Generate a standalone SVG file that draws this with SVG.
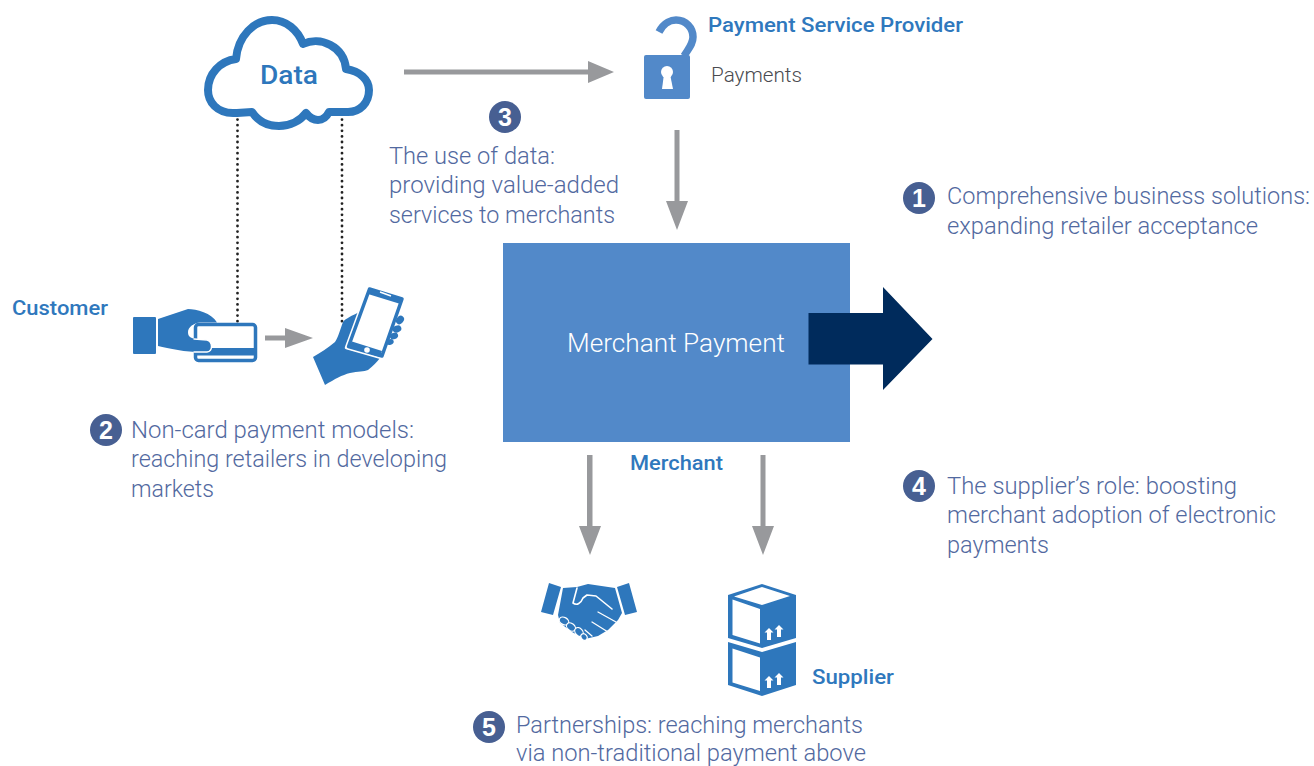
<svg xmlns="http://www.w3.org/2000/svg" width="1314" height="766" viewBox="0 0 1314 766">
<style>
.b{font-family:Roboto,"Liberation Sans",sans-serif;font-weight:300;font-size:23px;fill:#5269a0}
.h{font-family:Roboto,"Liberation Sans",sans-serif;font-weight:500;font-size:20px;fill:#2f78bd}
.n{font-family:"Liberation Sans",Arial,sans-serif;font-weight:700;font-size:25px;fill:#fff;text-anchor:middle}
.num{fill:#475f92}
.i{fill:#2e77bc}
.w{fill:#fff}
.gr{fill:#98999c}
.dot{fill:none;stroke:#222;stroke-width:2.800;stroke-linecap:round;stroke-dasharray:0 5.600}
.s{fill:none;stroke:#fff;stroke-linecap:round;stroke-linejoin:round}
.f{fill:#2e77bc;stroke:#fff;stroke-width:1.200}
</style>
<g id="connectors">
<line class="dot" x1="237.500" y1="114" x2="237.500" y2="323"/>
<line class="dot" x1="342" y1="114" x2="342" y2="323"/>
<path class="gr" d="M404 69.500H588V61L614 72L588 83V74.500H404Z"/>
<path class="gr" d="M674.500 130V201H666L677 230L688 201H679.500V130Z"/>
<path class="gr" d="M587 455V526H579L590 555L601 526H592.500V455Z"/>
<path class="gr" d="M760.500 455V526H752L763 555L774 526H765.500V455Z"/>
<path class="gr" d="M265 335.500H285V328L313 338L285 348V340.500H265Z"/>
</g>
<g id="merchant-payment">
<rect x="503" y="243" width="347" height="199" fill="#5289c9"/>
<text x="567" y="352" textLength="218" lengthAdjust="spacingAndGlyphs" style="font-family:Roboto,'Liberation Sans',sans-serif;font-weight:300;font-size:26px;fill:#fff">Merchant Payment</text>
<path d="M808.500 313H883V287L932.500 339L883 390V364.500H808.500Z" fill="#002b5c"/>
<text class="h" x="630" y="470" textLength="93" lengthAdjust="spacingAndGlyphs">Merchant</text>
</g>
<g id="data-cloud">
<path d="M237 113H233C217 113 208 102 208 90C208 74 220 61 236 59C238 36 254 20 272 20C286 20 298 30 303 44C320 36 344 46 346 69C360 71 369 80 369 90C369 103 360 112 348 112H329C326 118 322 120 318 120C313 120 309 117 306 113C300 121 290 126 279 126C268 126 258 121 252 112Z" fill="#fff" stroke="#2e77bc" stroke-width="8" stroke-linejoin="round"/>
<text x="260" y="84" textLength="58" lengthAdjust="spacingAndGlyphs" style="font-family:Roboto,'Liberation Sans',sans-serif;font-weight:500;font-size:25px;fill:#2e77bc">Data</text>
</g>
<g id="payment-service-provider">
<path d="M659 32C664 22 672 20 676 20C686 20 693 28 693 37C693 44 689 48 684 56" fill="none" stroke="#5289c9" stroke-width="7.500"/>
<rect x="644" y="55" width="46" height="44" rx="2" fill="#5289c9"/>
<circle class="w" cx="667" cy="72" r="6"/>
<path class="w" d="M664 74H670L673 89H662Z"/>
<text class="h" x="708" y="32" textLength="255" lengthAdjust="spacingAndGlyphs">Payment Service Provider</text>
<text x="711" y="82" textLength="91" lengthAdjust="spacingAndGlyphs" style="font-family:Roboto,'Liberation Sans',sans-serif;font-weight:300;font-size:20px;fill:#4a4b50">Payments</text>
</g>
<g id="customer-card">
<rect class="i" x="133" y="317" width="23" height="37" rx="1"/>
<rect x="195.500" y="324.500" width="60" height="36" rx="3" fill="#fff" stroke="#2e77bc" stroke-width="3.500"/>
<rect class="i" x="196" y="348" width="60" height="7.500"/>
<path class="i" d="M158 319L188 309C196 309 212 313 217 322.500H200C194 323 188 327 188 332C188 336 190 338 194 338.500L207 340C213 342 213 351 207 352C190 353 170 349 158 346Z"/>
<path class="s" d="M194 339L207 340C213 342 213 351 207 352L194 352" stroke-width="1.400"/>
<text class="h" x="12" y="315" textLength="96" lengthAdjust="spacingAndGlyphs">Customer</text>
</g>
<g id="phone-hand">
<path class="i" d="M359 312C352 316 346 318 343 322C340 330 338 338 335 342C328 348 320 353 313 357L325 385C335 379 342 375 350 373C358 371 364 372 368 370C373 366 377 362 380 358L347 349Z"/>
<path d="M368.500 287.500L403.500 298.500L383 358L346.500 347.500Z" fill="#fff" stroke="#fff" stroke-width="3.500" stroke-linejoin="round"/>
<path d="M369.500 289L402 299L382 356L348.500 346.500Z" fill="#fff" stroke="#2e77bc" stroke-width="3.500" stroke-linejoin="round"/>
<path class="i" d="M352 341.500L382 351L380 357L348 347ZM369.500 289L402 299L400.500 304L368 294Z"/>
<circle class="w" cx="367" cy="350" r="2.800"/>
<line x1="380" y1="292" x2="391" y2="296" stroke="#fff" stroke-width="1.500"/>
<ellipse class="i" cx="400" cy="320" rx="4.500" ry="3.600" transform="rotate(-50 400 320)"/>
<ellipse class="i" cx="397" cy="329" rx="4.500" ry="3.400" transform="rotate(-20 397 329)"/>
<ellipse class="i" cx="394" cy="336" rx="4.200" ry="3.200" transform="rotate(-20 394 336)"/>
<ellipse class="i" cx="390" cy="342" rx="3.800" ry="2.800" transform="rotate(-20 390 342)"/>
</g>
<g id="handshake">
<path class="i" d="M549 583L561 587L553 615L541 612ZM617 587L629 583L637 612L625 615Z"/>
<path class="i" d="M563 588L577 587L588 584L615 588L622 613L618 620L608 630L598 636L585 639L572 632L560 623L558 615Z"/>
<path class="s" d="M577 588L573 603C577 606 581 603 583 598L587 595L596 596L612 609" stroke-width="1.600"/>
<path class="s" d="M598 612L616 622M592 622L608 632M585 630L592 636" stroke-width="1.300"/>
<ellipse class="f" cx="564" cy="621" rx="5" ry="3.600" transform="rotate(30 564 621)"/>
<ellipse class="f" cx="571" cy="627" rx="5" ry="3.600" transform="rotate(40 571 627)"/>
<ellipse class="f" cx="579" cy="632" rx="5" ry="3.600" transform="rotate(50 579 632)"/>
<ellipse class="f" cx="584" cy="637" rx="3.500" ry="2.800" transform="rotate(50 584 637)"/>
</g>
<g id="supplier">
<path class="i" d="M762 584L796 595V638L762 648L728 638V595Z"/>
<path class="w" d="M762 587L790 596L762 605L734 596.500ZM732.500 599.500L760 609V643.500L732.500 635Z"/>
<path class="i" d="M728 642L762 652L796 642V685L762 696L728 685Z"/>
<path class="w" d="M732.500 648.500L760 657.500V691L732.500 682.500Z"/>
<path class="w" d="M764.500 632.500L769 628L773.500 632.500H771V640H767V632.500ZM774.500 629.500L779 625L783.500 629.500H781V637H777V629.500Z"/>
<path class="w" d="M764.500 680.500L769 676L773.500 680.500H771V688H767V680.500ZM774.500 677.500L779 673L783.500 677.500H781V685H777V677.500Z"/>
<text class="h" x="812" y="684" textLength="82" lengthAdjust="spacingAndGlyphs">Supplier</text>
</g>
<g id="note-1">
<circle class="num" cx="919" cy="198" r="16"/><text class="n" x="919" y="207">1</text>
<text class="b" x="947" y="204" textLength="363" lengthAdjust="spacingAndGlyphs">Comprehensive business solutions:</text>
<text class="b" x="947" y="234" textLength="311" lengthAdjust="spacingAndGlyphs">expanding retailer acceptance</text>
</g>
<g id="note-2">
<circle class="num" cx="106" cy="430" r="16"/><text class="n" x="106" y="439">2</text>
<text class="b" x="131" y="438" textLength="283" lengthAdjust="spacingAndGlyphs">Non-card payment models:</text>
<text class="b" x="131" y="467" textLength="316" lengthAdjust="spacingAndGlyphs">reaching retailers in developing</text>
<text class="b" x="131" y="497" textLength="83" lengthAdjust="spacingAndGlyphs">markets</text>
</g>
<g id="note-3">
<circle class="num" cx="505" cy="117" r="16"/><text class="n" x="505" y="126">3</text>
<text class="b" x="389" y="164" textLength="166" lengthAdjust="spacingAndGlyphs">The use of data:</text>
<text class="b" x="389" y="193" textLength="230" lengthAdjust="spacingAndGlyphs">providing value-added</text>
<text class="b" x="389" y="223" textLength="226" lengthAdjust="spacingAndGlyphs">services to merchants</text>
</g>
<g id="note-4">
<circle class="num" cx="919" cy="486" r="16"/><text class="n" x="919" y="495">4</text>
<text class="b" x="947" y="494" textLength="290" lengthAdjust="spacingAndGlyphs">The supplier’s role: boosting</text>
<text class="b" x="947" y="523" textLength="329" lengthAdjust="spacingAndGlyphs">merchant adoption of electronic</text>
<text class="b" x="947" y="553" textLength="102" lengthAdjust="spacingAndGlyphs">payments</text>
</g>
<g id="note-5">
<circle class="num" cx="489" cy="727" r="16"/><text class="n" x="489" y="736">5</text>
<text class="b" x="516" y="733" textLength="347" lengthAdjust="spacingAndGlyphs">Partnerships: reaching merchants</text>
<text class="b" x="516" y="761" textLength="350" lengthAdjust="spacingAndGlyphs">via non-traditional payment above</text>
</g>
</svg>
